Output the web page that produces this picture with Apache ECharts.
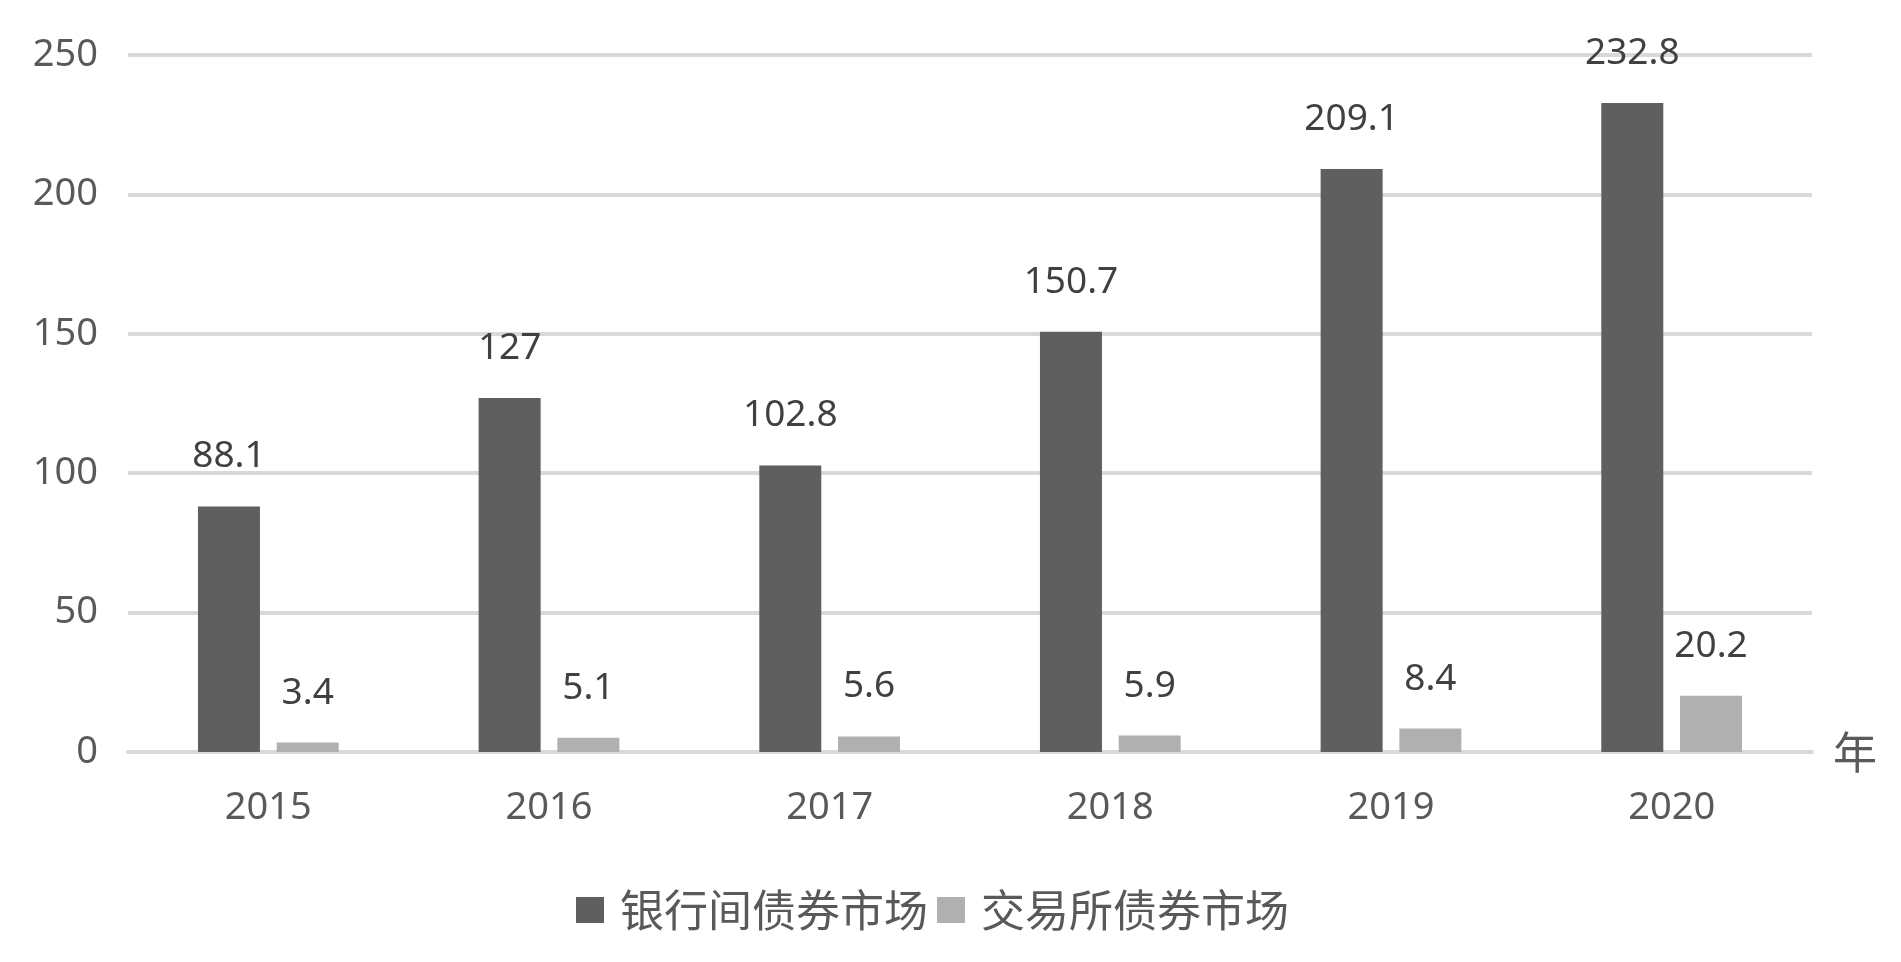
<!DOCTYPE html>
<html>
<head>
<meta charset="utf-8">
<script src="https://cdn.jsdelivr.net/npm/echarts@6/dist/echarts.min.js"></script>
<style>
html,body{margin:0;padding:0;background:#fff;}
#c{width:1901px;height:962px;}
</style>
</head>
<body>
<div id="c"></div>
<script>
const categories = ['2015', '2016', '2017', '2018', '2019', '2020'];
const interbank = [88.1, 127, 102.8, 150.7, 209.1, 232.8];
const exchange = [3.4, 5.1, 5.6, 5.9, 8.4, 20.2];
const seriesNames = ['银行间债券市场', '交易所债券市场'];
const yTicks = { min: 0, max: 250, interval: 50 };
const xUnit = '年';

const numFont = "'Noto Sans', sans-serif";
const cjkFont = "'Noto Sans CJK SC', sans-serif";

const chart = echarts.init(document.getElementById('c'));
const labelCfg = {
  show: true,
  position: 'top',
  distance: 31,
  fontFamily: numFont,
  fontSize: 37,
  color: '#404040'
};
chart.setOption({
  animation: false,
  backgroundColor: '#ffffff',
  grid: { left: 128, right: 89, top: 55, bottom: 210 },
  legend: {
    data: seriesNames,
    left: 576,
    top: 888,
    padding: 0,
    icon: 'rect',
    itemWidth: 28,
    itemHeight: 26,
    itemGap: 9,
    textStyle: {
      fontFamily: cjkFont,
      fontSize: 44,
      color: '#595959',
      padding: [0, 0, 0, 11]
    }
  },
  xAxis: {
    type: 'category',
    data: categories,
    name: xUnit,
    nameLocation: 'end',
    nameGap: 21,
    nameTextStyle: {
      fontFamily: cjkFont,
      fontSize: 44,
      color: '#595959',
      verticalAlign: 'middle',
      padding: [12, 0, 0, 0]
    },
    axisLine: { show: true, lineStyle: { color: '#d9d9d9', width: 4 } },
    axisTick: { show: false },
    axisLabel: {
      fontFamily: numFont,
      fontSize: 38,
      color: '#595959',
      margin: 56,
      verticalAlign: 'middle'
    },
    z: 1
  },
  yAxis: {
    type: 'value',
    min: yTicks.min,
    max: yTicks.max,
    interval: yTicks.interval,
    axisLine: { show: false },
    axisTick: { show: false },
    axisLabel: {
      fontFamily: numFont,
      fontSize: 38,
      color: '#595959',
      margin: 30
    },
    splitLine: { lineStyle: { color: '#d9d9d9', width: 4 } }
  },
  series: [
    {
      name: seriesNames[0],
      type: 'bar',
      data: interbank,
      barWidth: 62,
      barGap: '27%',
      itemStyle: { color: '#5f5f5f' },
      label: labelCfg,
      z: 3
    },
    {
      name: seriesNames[1],
      type: 'bar',
      data: exchange,
      barWidth: 62,
      barGap: '27%',
      itemStyle: { color: '#b0b0b0' },
      label: labelCfg,
      z: 3
    }
  ]
});
</script>
</body>
</html>
